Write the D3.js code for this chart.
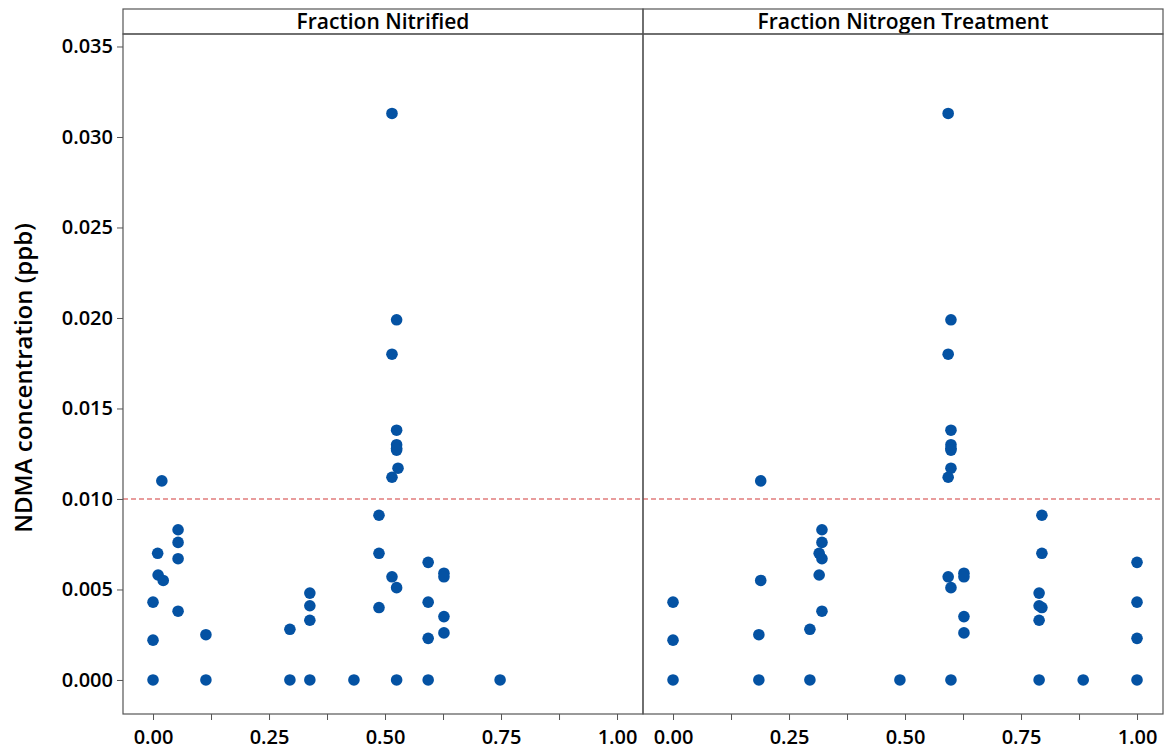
<!DOCTYPE html>
<html>
<head>
<meta charset="utf-8">
<script src="https://cdn.jsdelivr.net/npm/d3@7"></script>
<style>
  body { margin: 0; background: #fff; }
  text { font-family: "Open Sans", "Noto Sans", sans-serif; fill: #000; }
</style>
</head>
<body>
<div id="chart"></div>
<script>
// panels
var panels = ["Fraction Nitrified", "Fraction Nitrogen Treatment"];

// NDMA concentration (ppb) for every sample
var ndma = [0, 0.0022, 0.0043, 0.0070, 0.0058, 0.0055, 0.0110, 0.0083, 0.0076, 0.0067,
  0.0038, 0.0025, 0, 0.0028, 0, 0.0048, 0.0041, 0.0033, 0, 0,
  0.0091, 0.0070, 0.0040, 0.0057, 0.0051, 0, 0.0313, 0.0199, 0.0180, 0.0138,
  0.0130, 0.0128, 0.0127, 0.0117, 0.0112, 0.0065, 0.0043, 0.0023, 0, 0.0059,
  0.0057, 0.0035, 0.0026, 0];

var fracNitrified = [0, 0, 0, 0.010, 0.011, 0.022, 0.019, 0.054, 0.054, 0.054,
  0.054, 0.114, 0.114, 0.295, 0.295, 0.338, 0.338, 0.338, 0.338, 0.433,
  0.487, 0.487, 0.487, 0.515, 0.525, 0.525, 0.515, 0.525, 0.515, 0.525,
  0.525, 0.525, 0.525, 0.528, 0.515, 0.593, 0.593, 0.593, 0.593, 0.627,
  0.627, 0.627, 0.627, 0.748];

var fracNitrogen = [0, 0, 0, 0.315, 0.315, 0.189, 0.189, 0.321, 0.321, 0.321,
  0.321, 0.185, 0.185, 0.295, 0.295, 0.789, 0.789, 0.789, 0.789, 0.489,
  0.795, 0.795, 0.795, 0.593, 0.599, 0.599, 0.593, 0.599, 0.593, 0.599,
  0.599, 0.599, 0.599, 0.599, 0.593, 1.0, 1.0, 1.0, 1.0, 0.627,
  0.627, 0.627, 0.627, 0.884];

var xTicks = [0, 0.25, 0.5, 0.75, 1.0];
var xMinorTicks = [0, 0.125, 0.25, 0.375, 0.5, 0.625, 0.75, 0.875, 1.0];
var yTicks = [0, 0.005, 0.010, 0.015, 0.020, 0.025, 0.030, 0.035];
var refLine = 0.010;

var svgWidth = 1169;
var svgHeight = 751;

var left = 123;
var panelWidth = 520;
var stripTop = 9;
var plotTop = 34;
var plotBottom = 714;

var svg = d3.select("#chart")
  .append("svg")
  .attr("width", svgWidth)
  .attr("height", svgHeight);

var y = d3.scaleLinear()
  .domain([-0.00188, 0.03569])
  .range([plotBottom, plotTop]);

var columns = [fracNitrified, fracNitrogen];

panels.forEach(function(name, i) {
  var x0 = left + i * panelWidth;
  var x = d3.scaleLinear()
    .domain([-0.0647, 1.056])
    .range([x0, x0 + panelWidth]);

  var g = svg.append("g");

  // reference line
  g.append("line")
    .attr("x1", x0).attr("x2", x0 + panelWidth)
    .attr("y1", y(refLine)).attr("y2", y(refLine))
    .attr("stroke", "#d23b3b")
    .attr("stroke-width", 1.2)
    .attr("stroke-dasharray", "5,3");

  // points
  g.selectAll("circle")
    .data(ndma)
    .enter()
    .append("circle")
    .attr("cx", (d, j) => x(columns[i][j]))
    .attr("cy", d => y(d))
    .attr("r", 5.8)
    .attr("fill", "#0452a3");

  // x axis
  var xAxis = d3.axisBottom(x)
    .tickValues(xMinorTicks)
    .tickSize(6)
    .tickFormat(d => xTicks.indexOf(d) >= 0 ? d3.format(".2f")(d) : "");

  var ax = g.append("g")
    .attr("transform", `translate(0, ${plotBottom})`)
    .call(xAxis);
  ax.select(".domain").remove();
  ax.selectAll("line").attr("stroke", "#555");
  ax.selectAll("text")
    .attr("y", 16)
    .style("font-size", "20px")
    .style("font-weight", 600)
    .style("font-family", "'Open Sans', sans-serif");

  // strip
  g.append("text")
    .attr("x", x0 + panelWidth / 2)
    .attr("y", (stripTop + plotTop) / 2)
    .attr("dy", "0.36em")
    .attr("text-anchor", "middle")
    .style("font-size", "21px")
    .style("font-weight", 600)
    .text(name);

  g.append("rect")
    .attr("x", x0).attr("y", stripTop)
    .attr("width", panelWidth).attr("height", plotTop - stripTop)
    .attr("fill", "none").attr("stroke", "#555").attr("stroke-width", 1.2);

  g.append("rect")
    .attr("x", x0).attr("y", plotTop)
    .attr("width", panelWidth).attr("height", plotBottom - plotTop)
    .attr("fill", "none").attr("stroke", "#555").attr("stroke-width", 1.2);
});

// y axis
var yAxis = d3.axisLeft(y)
  .tickValues(yTicks)
  .tickSize(6)
  .tickFormat(d3.format(".3f"));

var ay = svg.append("g")
  .attr("transform", `translate(${left}, 0)`)
  .call(yAxis);
ay.select(".domain").remove();
ay.selectAll("line").attr("stroke", "#555");
ay.selectAll("text")
  .attr("x", -10)
  .style("font-size", "20px")
  .style("font-weight", 600)
  .style("font-family", "'Open Sans', sans-serif");

svg.append("text")
  .attr("transform", `translate(32, ${(plotTop + plotBottom) / 2 + 4}) rotate(-90)`)
  .attr("text-anchor", "middle")
  .style("font-size", "24px")
  .style("font-weight", 600)
  .text("NDMA concentration (ppb)");
</script>
</body>
</html>
